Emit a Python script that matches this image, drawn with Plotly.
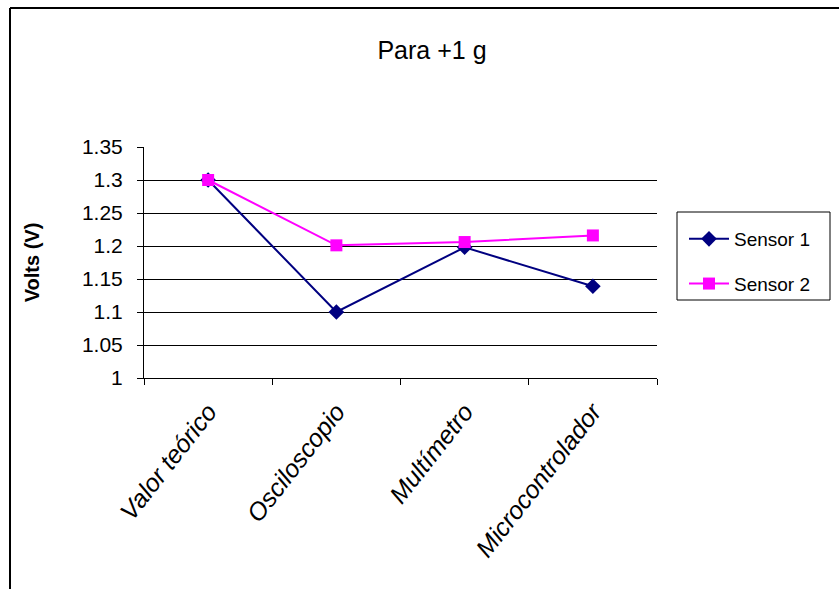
import plotly.graph_objects as go

# Data
categories = ["Valor teórico", "Osciloscopio", "Multímetro", "Microcontrolador"]
sensor1 = [1.30, 1.10, 1.198, 1.139]
sensor2 = [1.30, 1.201, 1.206, 1.216]
y_ticks = [1.0, 1.05, 1.1, 1.15, 1.2, 1.25, 1.3, 1.35]
y_tick_labels = ["1", "1.05", "1.1", "1.15", "1.2", "1.25", "1.3", "1.35"]

W, H = 839, 589
L, R, T, B = 144, 182, 147, 211
pw, ph = W - L - R, H - T - B

sans = "Liberation Sans, Arial, sans-serif"

fig = go.Figure()
fig.add_trace(go.Scatter(
    x=categories, y=sensor1, name="Sensor 1", mode="lines+markers",
    legendgroup="s1",
    line=dict(color="#000080", width=2),
    marker=dict(symbol="diamond", size=12, color="#000080"),
))
fig.add_trace(go.Scatter(
    x=categories, y=sensor2, name="Sensor 2", mode="lines+markers",
    legendgroup="s2",
    line=dict(color="#FF00FF", width=2),
    marker=dict(symbol="square", size=12, color="#FF00FF"),
))


def px_x(p):
    return (p - L) / pw


def px_y(p):
    return (H - B - p) / ph


# Outer chart frame (left and top edges)
frame = dict(color="#000000", width=2)
fig.add_shape(type="line", xref="paper", yref="paper",
              x0=px_x(10), x1=px_x(10), y0=px_y(8), y1=px_y(600), line=frame)
fig.add_shape(type="line", xref="paper", yref="paper",
              x0=px_x(10), x1=px_x(850), y0=px_y(8), y1=px_y(8), line=frame)
# Legend box
fig.add_shape(type="rect", xref="paper", yref="paper",
              x0=px_x(677), x1=px_x(830), y0=px_y(212), y1=px_y(300),
              line=dict(color="black", width=1), fillcolor="rgba(0,0,0,0)")

fig.update_layout(
    width=W, height=H,
    margin=dict(l=L, r=R, t=T, b=B, pad=0),
    paper_bgcolor="white", plot_bgcolor="white",
    title=dict(text="Para +1 g", xref="container", x=432 / W, xanchor="center",
               yref="container", y=1 - 50 / H, yanchor="middle",
               font=dict(family=sans, size=25, color="black")),
    showlegend=True,
    legend=dict(x=px_x(684), y=px_y(220), xanchor="left", yanchor="top",
                borderwidth=0, bgcolor="rgba(0,0,0,0)",
                font=dict(family=sans, size=19, color="black"),
                tracegroupgap=17, itemwidth=40),
    xaxis=dict(
        type="category", range=[-0.5, 3.5],
        showline=True, linecolor="black", linewidth=1,
        ticks="outside", ticklen=6, tickcolor="black", tickson="boundaries",
        showgrid=False, tickangle=-52, ticklabelstandoff=8,
        tickfont=dict(family=sans, size=25, color="black", style="italic"),
    ),
    yaxis=dict(
        range=[1.0, 1.35], tickvals=y_ticks, ticktext=y_tick_labels,
        showline=True, linecolor="black", linewidth=1,
        ticks="outside", ticklen=6, tickcolor="black",
        showgrid=True, gridcolor="black", gridwidth=1,
        zeroline=False, ticklabelstandoff=10,
        tickfont=dict(family=sans, size=21, color="black"),
        title=dict(text="<b>Volts (V)</b>", standoff=36,
                   font=dict(family=sans, size=20, color="black")),
    ),
)

fig.write_html("out.html")
